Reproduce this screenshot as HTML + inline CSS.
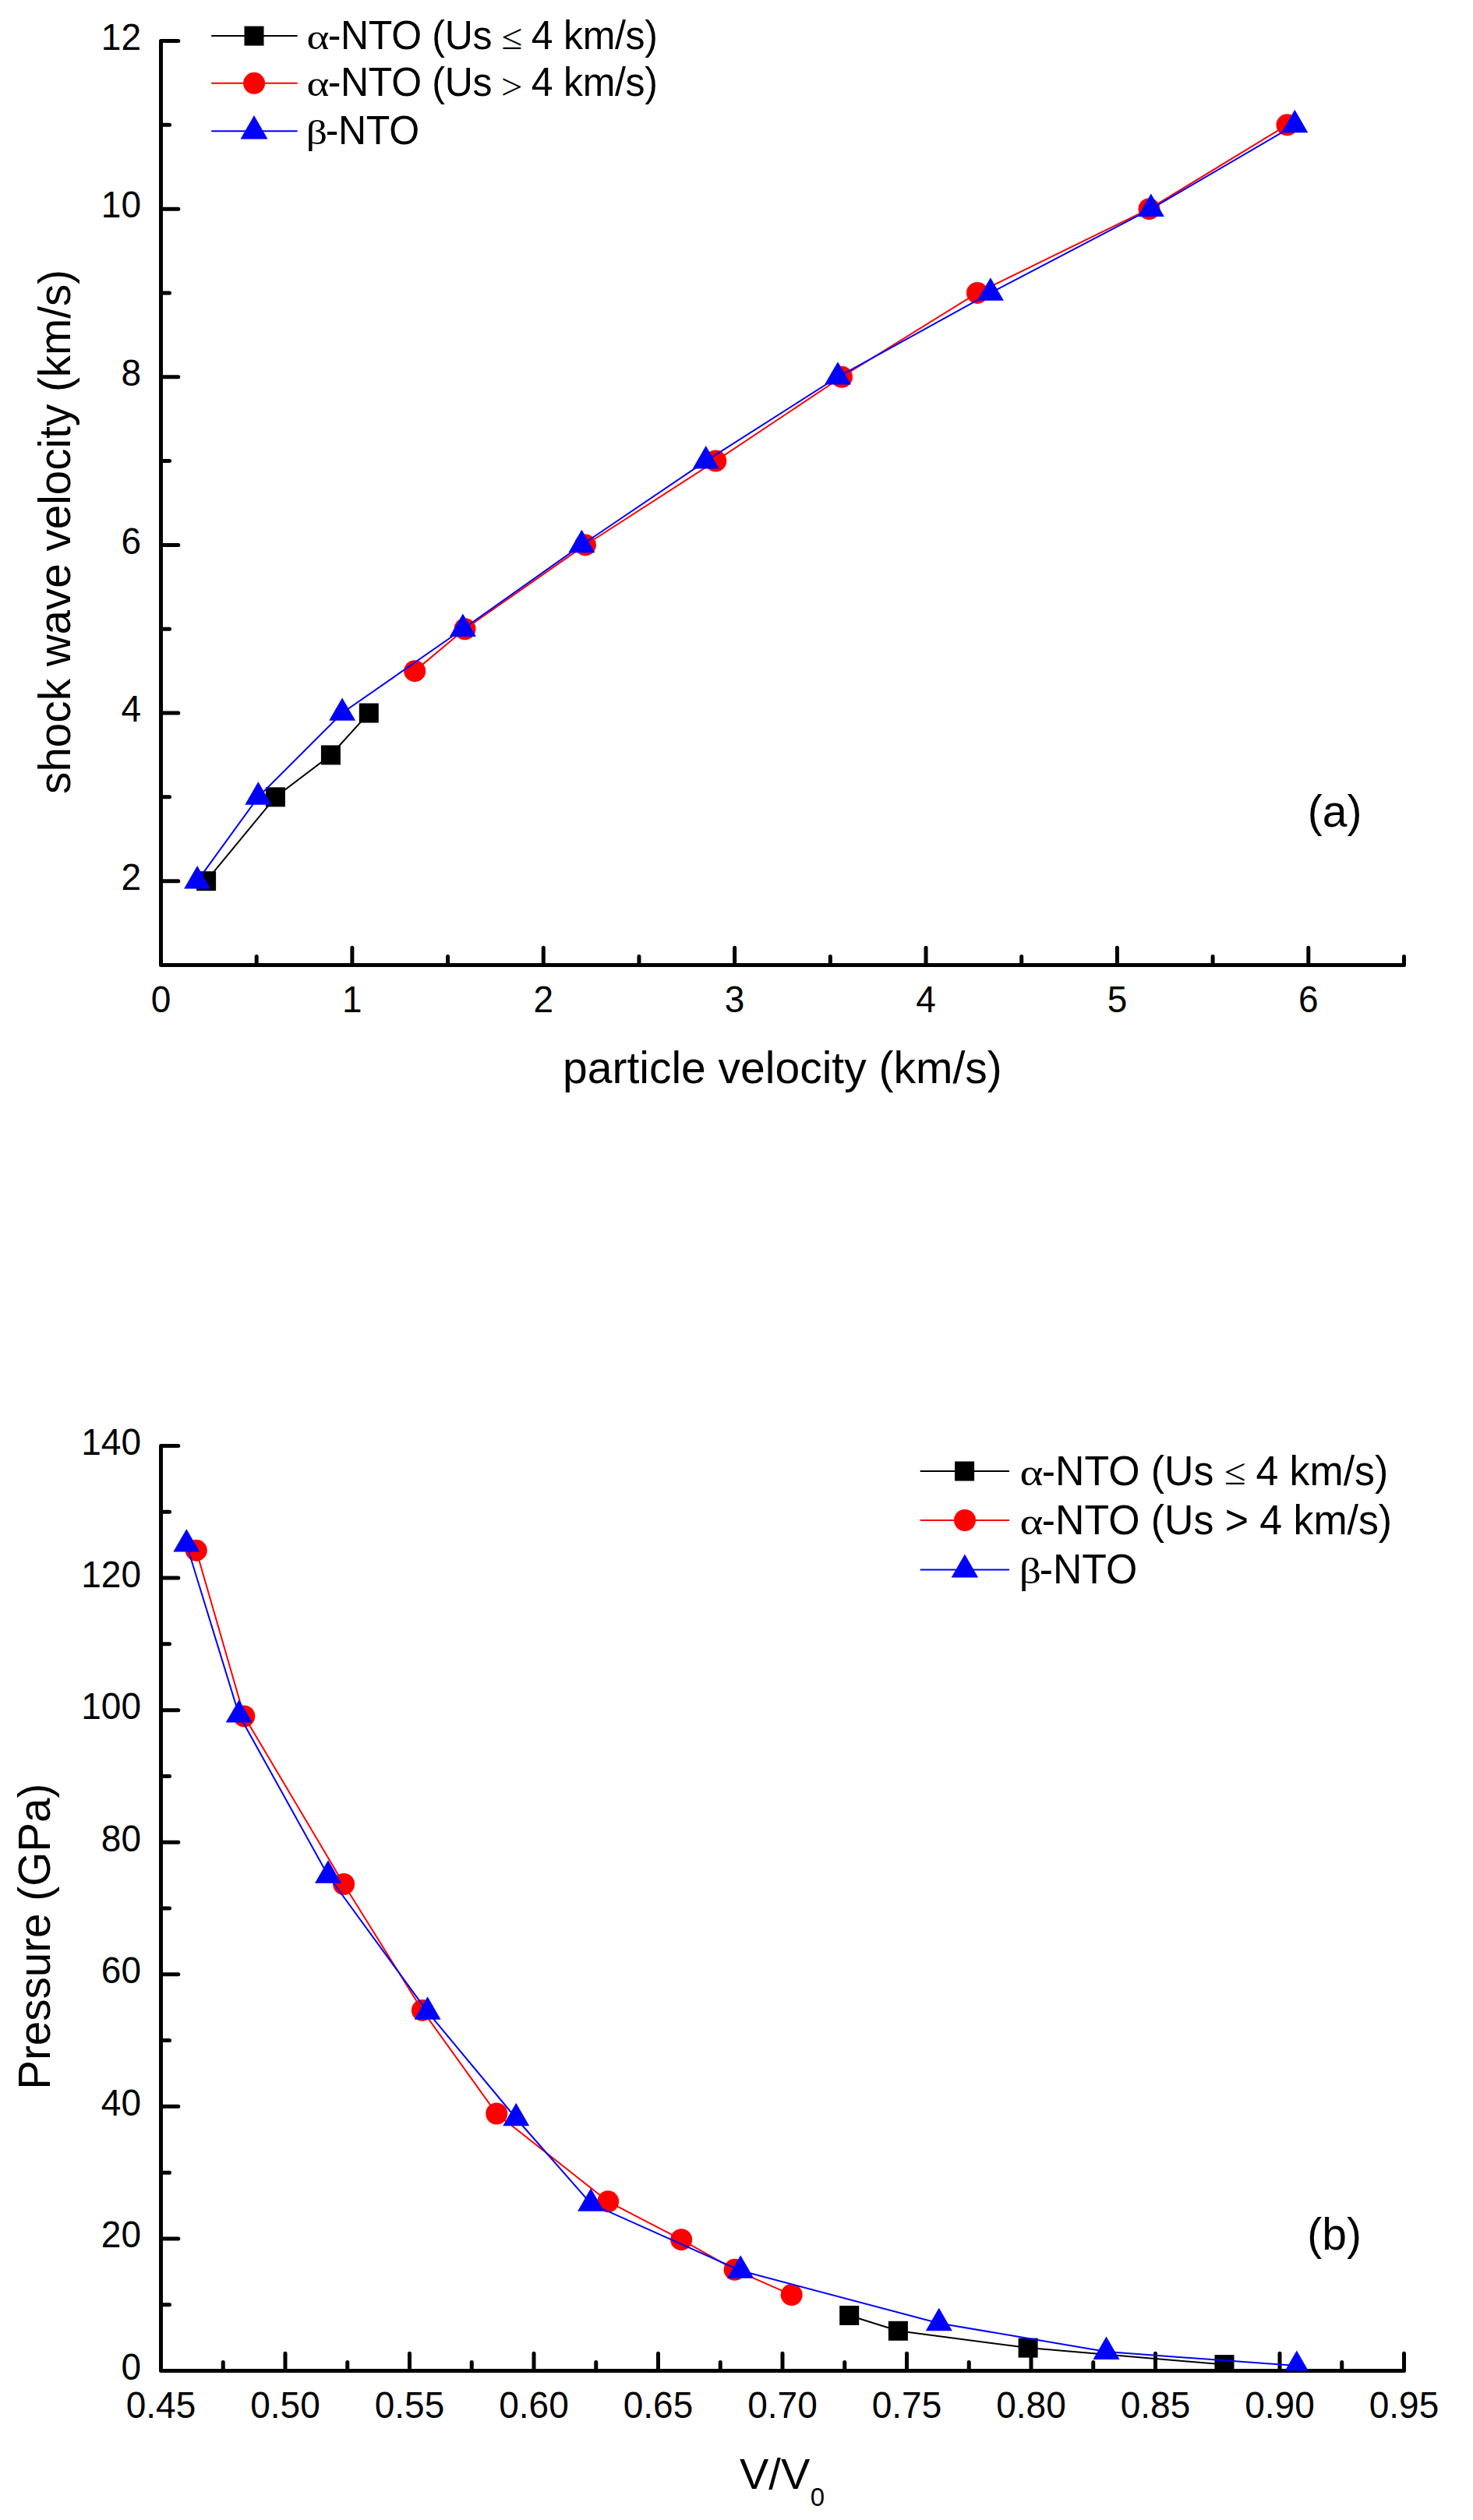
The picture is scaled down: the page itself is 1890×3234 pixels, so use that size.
<!DOCTYPE html>
<html lang="en"><head><meta charset="utf-8"><title>NTO Hugoniot curves</title>
<style>html,body{margin:0;padding:0;background:#fff}svg{display:block}text{font-family:"Liberation Sans",sans-serif;fill:#000}.tk{font-size:46px}.ti{font-size:57px}.tr{font-size:56.6px}.la{font-size:50px;letter-spacing:-0.3px}.lb{font-size:51.8px}.ga,.gb,.gc,.gd{font-family:"Liberation Serif",serif}.ga{font-size:46px}.gb{font-size:47.6px}.gc{font-size:44px}.gd{font-size:45.6px}.ax{fill:none;stroke:#000;stroke-width:5;stroke-linecap:round;stroke-linejoin:round}</style></head>
<body>
<svg width="1890" height="3234" viewBox="0 0 1890 3234">
<rect width="1890" height="3234" fill="#fff"/>
<defs><clipPath id="cb"><rect x="200" y="1800" width="1650" height="1242.5"/></clipPath></defs>
<path class="ax" d="M206.5 52.5V1238.5H1801.5M206.5 1130.68h22.3M206.5 1022.86h11M206.5 915.05h22.3M206.5 807.23h11M206.5 699.41h22.3M206.5 591.59h11M206.5 483.77h22.3M206.5 375.95h11M206.5 268.14h22.3M206.5 160.32h11M206.5 52.5h22.3M329.19 1238.5v-11M451.88 1238.5v-22.3M574.58 1238.5v-11M697.27 1238.5v-22.3M819.96 1238.5v-11M942.65 1238.5v-22.3M1065.35 1238.5v-11M1188.04 1238.5v-22.3M1310.73 1238.5v-11M1433.42 1238.5v-22.3M1556.12 1238.5v-11M1678.81 1238.5v-22.3M1801.5 1238.5v-11"/>
<g>
<polyline fill="none" stroke="#000" stroke-width="2" points="264.6,1130.68 353.4,1022.86 424.4,968.95 473.3,915.05"/>
<rect x="252.1" y="1118.18" width="25" height="25" fill="#000"/>
<rect x="340.9" y="1010.36" width="25" height="25" fill="#000"/>
<rect x="411.9" y="956.45" width="25" height="25" fill="#000"/>
<rect x="460.8" y="902.55" width="25" height="25" fill="#000"/>
</g>
<g>
<polyline fill="none" stroke="#f00" stroke-width="2" points="532.2,861.14 596.5,807.23 751,699.41 918.3,591.59 1080,483.77 1254,375.95 1474.5,268.14 1651.5,160.32"/>
<circle cx="532.2" cy="861.14" r="14" fill="#f00"/>
<circle cx="596.5" cy="807.23" r="14" fill="#f00"/>
<circle cx="751" cy="699.41" r="14" fill="#f00"/>
<circle cx="918.3" cy="591.59" r="14" fill="#f00"/>
<circle cx="1080" cy="483.77" r="14" fill="#f00"/>
<circle cx="1254" cy="375.95" r="14" fill="#f00"/>
<circle cx="1474.5" cy="268.14" r="14" fill="#f00"/>
<circle cx="1651.5" cy="160.32" r="14" fill="#f00"/>
</g>
<g>
<polyline fill="none" stroke="#00f" stroke-width="2" points="253.1,1130.68 331.3,1022.86 439.1,915.05 593.9,807.23 746.4,699.41 905.7,591.59 1075,483.77 1270.9,375.95 1476.8,268.14 1661.3,160.32"/>
<path d="M253.1 1111.05L270.1 1140.5L236.1 1140.5Z" fill="#00f"/>
<path d="M331.3 1003.23L348.3 1032.68L314.3 1032.68Z" fill="#00f"/>
<path d="M439.1 895.42L456.1 924.86L422.1 924.86Z" fill="#00f"/>
<path d="M593.9 787.6L610.9 817.04L576.9 817.04Z" fill="#00f"/>
<path d="M746.4 679.78L763.4 709.22L729.4 709.22Z" fill="#00f"/>
<path d="M905.7 571.96L922.7 601.41L888.7 601.41Z" fill="#00f"/>
<path d="M1075 464.14L1092 493.59L1058 493.59Z" fill="#00f"/>
<path d="M1270.9 356.32L1287.9 385.77L1253.9 385.77Z" fill="#00f"/>
<path d="M1476.8 248.51L1493.8 277.95L1459.8 277.95Z" fill="#00f"/>
<path d="M1661.3 140.69L1678.3 170.13L1644.3 170.13Z" fill="#00f"/>
</g>
<text class="tk" text-anchor="end" transform="translate(181 1141.88) scale(1 1.04)">2</text>
<text class="tk" text-anchor="end" transform="translate(181 926.25) scale(1 1.04)">4</text>
<text class="tk" text-anchor="end" transform="translate(181 710.61) scale(1 1.04)">6</text>
<text class="tk" text-anchor="end" transform="translate(181 494.97) scale(1 1.04)">8</text>
<text class="tk" text-anchor="end" transform="translate(181 279.34) scale(1 1.04)">10</text>
<text class="tk" text-anchor="end" transform="translate(181 63.7) scale(1 1.04)">12</text>
<text class="tk" text-anchor="middle" transform="translate(206.5 1299.4) scale(1 1.04)">0</text>
<text class="tk" text-anchor="middle" transform="translate(451.88 1299.4) scale(1 1.04)">1</text>
<text class="tk" text-anchor="middle" transform="translate(697.27 1299.4) scale(1 1.04)">2</text>
<text class="tk" text-anchor="middle" transform="translate(942.65 1299.4) scale(1 1.04)">3</text>
<text class="tk" text-anchor="middle" transform="translate(1188.04 1299.4) scale(1 1.04)">4</text>
<text class="tk" text-anchor="middle" transform="translate(1433.42 1299.4) scale(1 1.04)">5</text>
<text class="tk" text-anchor="middle" transform="translate(1678.81 1299.4) scale(1 1.04)">6</text>
<text class="ti" text-anchor="middle" x="1003.9" y="1390.1">particle velocity (km/s)</text>
<text class="tr" text-anchor="middle" transform="translate(89.5 682.4) rotate(-90)">shock wave velocity (km/s)</text>
<text class="ti" text-anchor="middle" x="1712.7" y="1060.5">(a)</text>
<g>
<path d="M271.2 46.1H381.6" stroke="#000" stroke-width="2"/>
<rect x="313.5" y="33.6" width="25" height="25"/>
<path d="M271.2 106.8H381.6" stroke="#f00" stroke-width="2"/>
<circle cx="326.1" cy="106.8" r="14" fill="#f00"/>
<path d="M271.2 168.3H381.6" stroke="#00f" stroke-width="2"/>
<path d="M326 148.09L343.5 178.4L308.5 178.4Z" fill="#00f"/>
</g>
<text class="ga" transform="translate(393.4 63) scale(1.2 1)">α</text>
<text class="la" transform="translate(420.68 63) scale(1 1.03)">-NTO (Us</text>
<text class="ga" transform="translate(643.48 62.6) scale(1.06 1)">≤</text>
<text class="la" transform="translate(681.85 63) scale(1 1.03)">4 km/s)</text>
<text class="ga" transform="translate(393.4 123.4) scale(1.2 1)">α</text>
<text class="la" transform="translate(420.68 123.4) scale(1 1.03)">-NTO (Us</text>
<text class="ga" transform="translate(643.02 127.3) scale(1.06 1)">&gt;</text>
<text class="la" transform="translate(681.85 123.4) scale(1 1.03)">4 km/s)</text>
<text class="gc" transform="translate(392.85 185.2) scale(1.22 1)">β</text>
<text class="la" transform="translate(417.68 185.2) scale(1 1.03)">-NTO</text>
<path class="ax" d="M206.5 1855.5V3042.5H1801.5M206.5 2957.71h11M206.5 2872.93h22.3M206.5 2788.14h11M206.5 2703.36h22.3M206.5 2618.57h11M206.5 2533.79h22.3M206.5 2449h11M206.5 2364.21h22.3M206.5 2279.43h11M206.5 2194.64h22.3M206.5 2109.86h11M206.5 2025.07h22.3M206.5 1940.29h11M206.5 1855.5h22.3M286.25 3042.5v-11M366 3042.5v-22.3M445.75 3042.5v-11M525.5 3042.5v-22.3M605.25 3042.5v-11M685 3042.5v-22.3M764.75 3042.5v-11M844.5 3042.5v-22.3M924.25 3042.5v-11M1004 3042.5v-22.3M1083.75 3042.5v-11M1163.5 3042.5v-22.3M1243.25 3042.5v-11M1323 3042.5v-22.3M1402.75 3042.5v-11M1482.5 3042.5v-22.3M1562.25 3042.5v-11M1642 3042.5v-22.3M1721.75 3042.5v-11M1801.5 3042.5v-22.3"/>
<g clip-path="url(#cb)">
<polyline fill="none" stroke="#000" stroke-width="2" points="1089.7,2971.5 1152.4,2991.3 1319.1,3013.1 1571,3034.6"/>
<rect x="1077.2" y="2959" width="25" height="25" fill="#000"/>
<rect x="1139.9" y="2978.8" width="25" height="25" fill="#000"/>
<rect x="1306.6" y="3000.6" width="25" height="25" fill="#000"/>
<rect x="1558.5" y="3022.1" width="25" height="25" fill="#000"/>
</g>
<g clip-path="url(#cb)">
<polyline fill="none" stroke="#f00" stroke-width="2" points="251.8,1989.7 313.3,2202.5 441.1,2418 541.9,2579.9 637.2,2712.5 780.2,2825.3 874.2,2874.2 942.6,2912.8 1015.7,2945.1"/>
<circle cx="251.8" cy="1989.7" r="14" fill="#f00"/>
<circle cx="313.3" cy="2202.5" r="14" fill="#f00"/>
<circle cx="441.1" cy="2418" r="14" fill="#f00"/>
<circle cx="541.9" cy="2579.9" r="14" fill="#f00"/>
<circle cx="637.2" cy="2712.5" r="14" fill="#f00"/>
<circle cx="780.2" cy="2825.3" r="14" fill="#f00"/>
<circle cx="874.2" cy="2874.2" r="14" fill="#f00"/>
<circle cx="942.6" cy="2912.8" r="14" fill="#f00"/>
<circle cx="1015.7" cy="2945.1" r="14" fill="#f00"/>
</g>
<g clip-path="url(#cb)">
<polyline fill="none" stroke="#00f" stroke-width="2" points="239.3,1981.8 306.7,2200.8 421,2407 548.6,2581.9 662.2,2718.5 758.1,2828 950.2,2914 1204.8,2981.4 1419.5,3018.1 1663.8,3036.1"/>
<path d="M239.3 1962.17L256.3 1991.61L222.3 1991.61Z" fill="#00f"/>
<path d="M306.7 2181.17L323.7 2210.61L289.7 2210.61Z" fill="#00f"/>
<path d="M421 2387.37L438 2416.81L404 2416.81Z" fill="#00f"/>
<path d="M548.6 2562.27L565.6 2591.71L531.6 2591.71Z" fill="#00f"/>
<path d="M662.2 2698.87L679.2 2728.31L645.2 2728.31Z" fill="#00f"/>
<path d="M758.1 2808.37L775.1 2837.81L741.1 2837.81Z" fill="#00f"/>
<path d="M950.2 2894.37L967.2 2923.81L933.2 2923.81Z" fill="#00f"/>
<path d="M1204.8 2961.77L1221.8 2991.21L1187.8 2991.21Z" fill="#00f"/>
<path d="M1419.5 2998.47L1436.5 3027.91L1402.5 3027.91Z" fill="#00f"/>
<path d="M1663.8 3016.47L1680.8 3045.91L1646.8 3045.91Z" fill="#00f"/>
</g>
<text class="tk" text-anchor="end" transform="translate(181 3054) scale(1 1.04)">0</text>
<text class="tk" text-anchor="end" transform="translate(181 2884.43) scale(1 1.04)">20</text>
<text class="tk" text-anchor="end" transform="translate(181 2714.86) scale(1 1.04)">40</text>
<text class="tk" text-anchor="end" transform="translate(181 2545.29) scale(1 1.04)">60</text>
<text class="tk" text-anchor="end" transform="translate(181 2375.71) scale(1 1.04)">80</text>
<text class="tk" text-anchor="end" transform="translate(181 2206.14) scale(1 1.04)">100</text>
<text class="tk" text-anchor="end" transform="translate(181 2036.57) scale(1 1.04)">120</text>
<text class="tk" text-anchor="end" transform="translate(181 1867) scale(1 1.04)">140</text>
<text class="tk" text-anchor="middle" transform="translate(206.5 3103.1) scale(1 1.04)">0.45</text>
<text class="tk" text-anchor="middle" transform="translate(366 3103.1) scale(1 1.04)">0.50</text>
<text class="tk" text-anchor="middle" transform="translate(525.5 3103.1) scale(1 1.04)">0.55</text>
<text class="tk" text-anchor="middle" transform="translate(685 3103.1) scale(1 1.04)">0.60</text>
<text class="tk" text-anchor="middle" transform="translate(844.5 3103.1) scale(1 1.04)">0.65</text>
<text class="tk" text-anchor="middle" transform="translate(1004 3103.1) scale(1 1.04)">0.70</text>
<text class="tk" text-anchor="middle" transform="translate(1163.5 3103.1) scale(1 1.04)">0.75</text>
<text class="tk" text-anchor="middle" transform="translate(1323 3103.1) scale(1 1.04)">0.80</text>
<text class="tk" text-anchor="middle" transform="translate(1482.5 3103.1) scale(1 1.04)">0.85</text>
<text class="tk" text-anchor="middle" transform="translate(1642 3103.1) scale(1 1.04)">0.90</text>
<text class="tk" text-anchor="middle" transform="translate(1801.5 3103.1) scale(1 1.04)">0.95</text>
<text class="tr" text-anchor="middle" transform="translate(64 2485.3) rotate(-90)">Pressure (GPa)</text>
<text y="3194"><tspan class="ti" font-size="56" x="949" style="font-size:56px">V/V</tspan><tspan x="1039.8" dy="21.7" style="font-size:33px">0</tspan></text>
<text class="ti" text-anchor="middle" x="1712.2" y="2887">(b)</text>
<g>
<path d="M1180.7 1888H1295" stroke="#000" stroke-width="2"/>
<rect x="1225.1" y="1875.5" width="25" height="25"/>
<path d="M1180.7 1951H1295" stroke="#f00" stroke-width="2"/>
<circle cx="1238" cy="1951" r="14" fill="#f00"/>
<path d="M1180.7 2014.5H1295" stroke="#00f" stroke-width="2"/>
<path d="M1237.9 1994.58L1255.15 2024.46L1220.65 2024.46Z" fill="#00f"/>
</g>
<text class="gb" transform="translate(1308.42 1905.7) scale(1.2 1)">α</text>
<text class="lb" transform="translate(1336.8 1905.7) scale(1 1.03)">-NTO (Us</text>
<text class="gb" transform="translate(1571.11 1905.3) scale(1.06 1)">≤</text>
<text class="lb" transform="translate(1611.41 1905.7) scale(1 1.03)">4 km/s)</text>
<text class="gb" transform="translate(1308.42 1968.8) scale(1.2 1)">α</text>
<text class="lb" transform="translate(1336.8 1968.8) scale(1 1.03)">-NTO (Us</text>
<text class="lb" transform="translate(1571.65 1968.8) scale(1 1.03)">&gt; 4 km/s)</text>
<text class="gd" transform="translate(1307.83 2032) scale(1.22 1)">β</text>
<text class="lb" transform="translate(1333.7 2032) scale(1 1.03)">-NTO</text>
</svg>
</body></html>
